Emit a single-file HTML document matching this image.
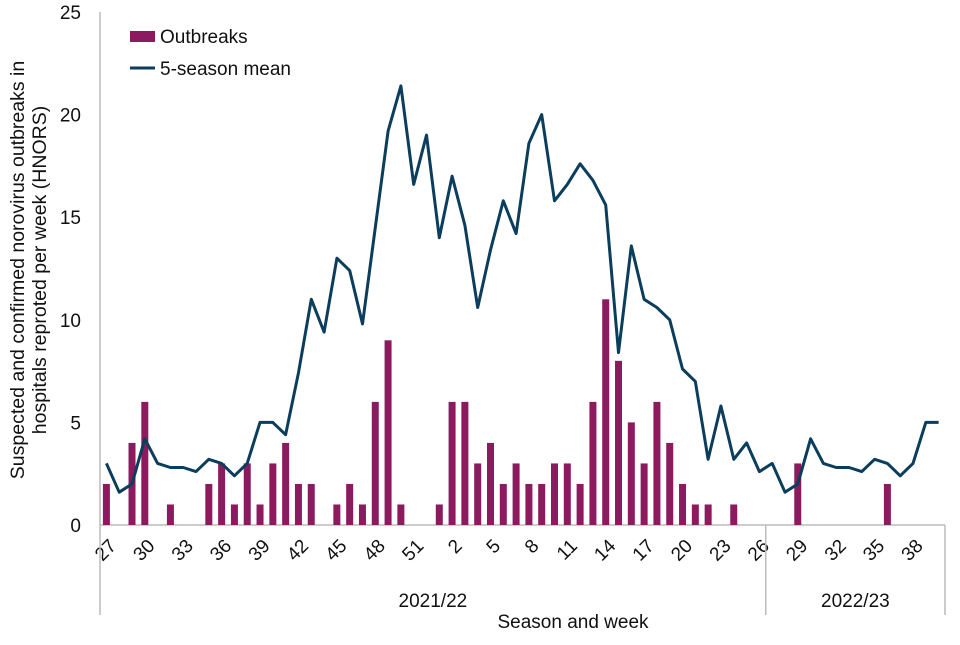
<!DOCTYPE html>
<html><head><meta charset="utf-8"><style>
body{margin:0;background:#fff;}
svg text{font-family:"Liberation Sans",sans-serif;fill:#111;}
</style></head><body>
<svg id="chart" width="960" height="640" viewBox="0 0 960 640" xmlns="http://www.w3.org/2000/svg">
<g id="axes"></g>
<g id="bars"></g>
<g id="line"></g>
<g id="legend">
<rect x="130" y="31" width="25" height="11" fill="#8B1A5E"/>
<text x="160" y="43" font-size="19">Outbreaks</text>
<line x1="130" y1="68" x2="155" y2="68" stroke="#0B3D5C" stroke-width="3"/>
<text x="160" y="75" font-size="19">5-season mean</text>
</g>
<text transform="translate(24,270) rotate(-90)" text-anchor="middle" font-size="19.5">Suspected and confirmed norovirus outbreaks in</text>
<text transform="translate(46,270) rotate(-90)" text-anchor="middle" font-size="19.5">hospitals  reproted per week (HNORS)</text>
<text x="573" y="628" text-anchor="middle" font-size="19">Season and week</text>
</svg>
<script>
const weeks = [27,28,29,30,31,32,33,34,35,36,37,38,39,40,41,42,43,44,45,46,47,48,49,50,51,52,1,2,3,4,5,6,7,8,9,10,11,12,13,14,15,16,17,18,19,20,21,22,23,24,25,26,27,28,29,30,31,32,33,34,35,36,37,38,39,40];
const outbreaks = [2,0,4,6,0,1,0,0,2,3,1,3,1,3,4,2,2,0,1,2,1,6,9,1,0,0,1,6,6,3,4,2,3,2,2,3,3,2,6,11,8,5,3,6,4,2,1,1,0,1,0,0,0,0,3,0,0,0,0,0,0,2,0,0,0,0];
const meanVals = [3.0,1.6,2.0,4.2,3.0,2.8,2.8,2.6,3.2,3.0,2.4,3.0,5.0,5.0,4.4,7.4,11.0,9.4,13.0,12.4,9.8,14.5,19.2,21.4,16.6,19.0,14.0,17.0,14.6,10.6,13.4,15.8,14.2,18.6,20.0,15.8,16.6,17.6,16.8,15.6,8.4,13.6,11.0,10.6,10.0,7.6,7.0,3.2,5.8,3.2,4.0,2.6,3.0,1.6,2.0,4.2,3.0,2.8,2.8,2.6,3.2,3.0,2.4,3.0,5.0,5.0];
const yTicks = [0,5,10,15,20,25];
const seasons = ["2021/22","2022/23"];
const seasonStart = [0,52];

const NS="http://www.w3.org/2000/svg";
const X0=100,X1=945,Y0=525,Y1=12,YMAX=25;
const step=(X1-X0)/weeks.length;
function xc(i){return X0+step*(i+0.5);}
function ys(v){return Y0-(v/YMAX)*(Y0-Y1);}
function mk(tag,attrs,parent){const e=document.createElementNS(NS,tag);for(const k in attrs)e.setAttribute(k,attrs[k]);parent.appendChild(e);return e;}
const axes=document.getElementById('axes');
let e=mk('line',{x1:X0,y1:Y1,x2:X0,y2:Y0,stroke:'#bbb','stroke-width':1.5},axes);


e=mk('line',{x1:X0,y1:Y0,x2:X1,y2:Y0,stroke:'#bbb','stroke-width':1.5},axes);


yTicks.forEach(t=>{
  const tx=mk('text',{x:81,y:ys(t)+7,'text-anchor':'end','font-size':19},axes);
  tx.textContent=t;
  
  
});
weeks.forEach((w,i)=>{
  if(i%3!==0)return;
  const x=xc(i)+11,y=Y0+22;
  const tx=mk('text',{x:x,y:y,'text-anchor':'end','font-size':19,transform:`rotate(-45 ${x} ${y})`},axes);
  tx.textContent=w;
  
  
});
const bounds=[...seasonStart,weeks.length];
bounds.forEach(b=>{
  const x=X0+step*b;
  const l=mk('line',{x1:x,y1:Y0,x2:x,y2:615,stroke:'#bbb','stroke-width':1.5},axes);
  
  
});
seasons.forEach((s,k)=>{
  const a=X0+step*bounds[k],b=X0+step*bounds[k+1];
  const tx=mk('text',{x:(a+b)/2,y:607,'text-anchor':'middle','font-size':19},axes);
  tx.textContent=s;
  
  
});
const bars=document.getElementById('bars');
outbreaks.forEach((v,i)=>{
  if(v<=0)return;
  const r=mk('rect',{x:xc(i)-3.5,y:ys(v),width:7,height:Y0-ys(v),fill:'#8B1A5E'},bars);
  
  
});
const lg=document.getElementById('line');
const pts=meanVals.map((v,i)=>xc(i).toFixed(1)+','+ys(v).toFixed(1)).join(' ');
const pl=mk('polyline',{points:pts,fill:'none',stroke:'#0B3D5C','stroke-width':3,'stroke-linejoin':'round'},lg);


</script>
</body></html>
